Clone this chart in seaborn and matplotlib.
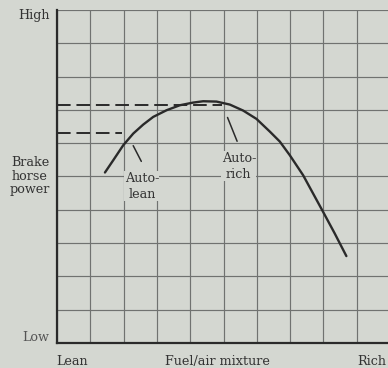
import matplotlib
matplotlib.use("Agg")
import matplotlib.pyplot as plt
import seaborn as sns
import pandas as pd

# Curve (grid units 0-10)
mixture = [1.44, 1.69, 1.99, 2.29, 2.59, 2.89, 3.29, 3.69, 4.09, 4.39, 4.79,
           5.19, 5.59, 5.99, 6.39, 6.69, 6.99, 7.39, 7.69, 7.99, 8.34, 8.69]
bhp = [5.12, 5.49, 5.94, 6.29, 6.56, 6.79, 6.99, 7.14, 7.22, 7.26, 7.25,
       7.16, 6.98, 6.73, 6.35, 6.05, 5.64, 5.04, 4.49, 3.94, 3.29, 2.61]

# Dashed reference levels
rich_level_x = [0.0, 4.95]
rich_level_y = [7.15, 7.15]
lean_level_x = [0.0, 1.95]
lean_level_y = [6.31, 6.31]

# Annotations: (label, text position, arrow tail, arrow tip)
annot_labels = ["Auto-\nlean", "Auto-\nrich"]
annot_text_xy = [(2.55, 4.71), (5.46, 5.31)]
annot_tail_xy = [(2.57, 5.38), (5.44, 5.98)]
annot_tip_xy = [(2.25, 6.0), (5.09, 6.85)]

y_tick_labels = ["Low", "Brake\nhorse\npower", "High"]
x_tick_labels = ["Lean", "Fuel/air mixture", "Rich"]

bg = "#d4d7d1"
ink = "#2a2a2a"
grid_c = "#707270"

sns.set_theme(style="white")
plt.rcParams["font.family"] = ["DejaVu Serif"]

fig = plt.figure(figsize=(3.88, 3.68), dpi=100, facecolor=bg)
ax = fig.add_axes([57 / 388, 25 / 368, 333 / 388, 333 / 368])
ax.set_facecolor(bg)

df = pd.DataFrame({"mixture": mixture, "bhp": bhp})
sns.lineplot(data=df, x="mixture", y="bhp", sort=False, color=ink,
             linewidth=1.7, ax=ax, zorder=5)
ax.lines[-1].set_solid_joinstyle("round")

sns.lineplot(x=rich_level_x, y=rich_level_y, color=ink, linewidth=1.4,
             ax=ax, zorder=4)
ax.lines[-1].set_dashes((7, 3))
sns.lineplot(x=lean_level_x, y=lean_level_y, color=ink, linewidth=1.4,
             ax=ax, zorder=4)
ax.lines[-1].set_dashes((7, 3))

for lab, txy, tail, tip in zip(annot_labels, annot_text_xy, annot_tail_xy, annot_tip_xy):
    ax.annotate("", xy=tip, xytext=tail,
                arrowprops=dict(arrowstyle="-", color=ink, lw=1.1), zorder=6)
    ax.text(txy[0], txy[1], lab, ha="center", va="center", fontsize=9.2,
            color="#333333", linespacing=1.3, zorder=6,
            bbox=dict(facecolor=bg, edgecolor="none", pad=0.3))

ax.set_xlim(0, 10)
ax.set_ylim(0, 10)
ax.set_xticks(range(11))
ax.set_yticks(range(11))
ax.set_xticklabels([])
ax.set_yticklabels([])
ax.tick_params(length=0)
ax.grid(True, color=grid_c, linewidth=0.85)
ax.set_xlabel("")
ax.set_ylabel("")

for s in ["top", "right"]:
    ax.spines[s].set_visible(False)
for s in ["left", "bottom"]:
    ax.spines[s].set_color(ink)
    ax.spines[s].set_linewidth(1.6)
    ax.spines[s].set_zorder(7)

tr = ax.transAxes
ax.text(-0.068, 0.982, y_tick_labels[2], transform=tr, ha="center", va="center",
        fontsize=9.2, color="#333333")
ax.text(-0.081, 0.50, y_tick_labels[1], transform=tr, ha="center", va="center",
        fontsize=9.2, color="#333333", linespacing=1.05)
ax.text(-0.065, 0.018, y_tick_labels[0], transform=tr, ha="center", va="center",
        fontsize=9.2, color="#555555")

for xf, lab in zip([0.045, 0.483, 0.946], x_tick_labels):
    ax.text(xf, -0.056, lab, transform=tr, ha="center", va="center",
            fontsize=9.2, color="#333333")

fig.savefig("out.png", dpi=100, facecolor=bg)
